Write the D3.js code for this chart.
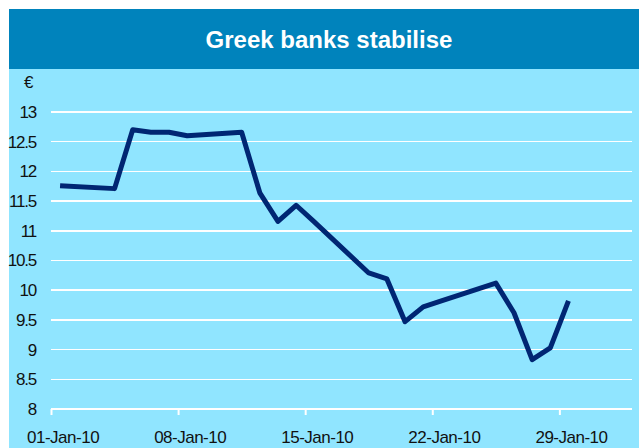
<!DOCTYPE html>
<head>
  <meta charset="utf-8">
  <title>Greek banks stabilise</title>
  <style>
    body {margin: 0; background: #fff;}
    text {font-family: "Liberation Sans", Arial, sans-serif;}
    .axis text {font-size: 17px; fill: #111;}
    .y.axis text {letter-spacing: -1.2px;}
    .x.axis text {letter-spacing: -0.5px;}
    .grid line {stroke: #fff; stroke-width: 1.5; shape-rendering: crispEdges;}
  </style>
</head>
<body>
  <svg width="639" height="448"></svg>
  <script src="https://cdn.jsdelivr.net/npm/d3@7"></script>
  <script>
    // closing price in euros, January 2010
    var dates = ["2010-01-01","2010-01-04","2010-01-05","2010-01-06","2010-01-07","2010-01-08",
                 "2010-01-11","2010-01-12","2010-01-13","2010-01-14","2010-01-15",
                 "2010-01-18","2010-01-19","2010-01-20","2010-01-21","2010-01-22",
                 "2010-01-25","2010-01-26","2010-01-27","2010-01-28","2010-01-29"];
    var prices = [11.76, 11.71, 12.70, 12.66, 12.66, 12.60,
                  12.66, 11.64, 11.16, 11.43, 11.15,
                  10.29, 10.19, 9.47, 9.72, 9.82,
                  10.12, 9.62, 8.83, 9.03, 9.82];
    var yTicks = [8, 8.5, 9, 9.5, 10, 10.5, 11, 11.5, 12, 12.5, 13];
    var xTickDates = ["2010-01-01","2010-01-08","2010-01-15","2010-01-22","2010-01-29"];
    var title = "Greek banks stabilise";

    var parseDate = d3.timeParse("%Y-%m-%d");
    var data = dates.map(function(d, i) { return {date: parseDate(d), value: prices[i]}; });
    var tickDates = xTickDates.map(parseDate);

    var svg = d3.select("svg");

    // panel and title band
    svg.append("rect").attr("x", 9).attr("y", 69).attr("width", 630).attr("height", 379).attr("fill", "#90e5ff");
    svg.append("rect").attr("x", 9).attr("y", 9).attr("width", 630).attr("height", 60).attr("fill", "#0083bc");
    svg.append("text")
        .attr("x", 329).attr("y", 48)
        .attr("text-anchor", "middle")
        .attr("fill", "#fff")
        .attr("font-size", "24px")
        .attr("font-weight", "bold")
        .text(title);

    var x = d3.scaleTime().domain([parseDate("2010-01-01"), parseDate("2010-02-02")]).range([51, 632]),
        y = d3.scaleLinear().domain([8, 13]).range([409, 112]);

    var halfDay = function(d) { return d3.timeHour.offset(d, 12); };

    // gridlines
    svg.append("g")
        .attr("class", "grid")
      .selectAll("line")
        .data(yTicks.slice(1))
      .enter().append("line")
        .attr("x1", 51).attr("x2", 632)
        .attr("y1", function(d) { return y(d); })
        .attr("y2", function(d) { return y(d); });

    // y axis labels
    var yAxis = d3.axisLeft(y).tickValues(yTicks).tickSize(0).tickPadding(15)
        .tickFormat(function(d) { return String(d); });
    var gy = svg.append("g").attr("class", "y axis").attr("transform", "translate(51,0)").call(yAxis);
    gy.select(".domain").remove();
    gy.append("text")
        .attr("x", -23).attr("y", y(13) - 29)
        .attr("dy", "0.32em")
        .attr("text-anchor", "middle")
        .text("€");

    // x axis
    var xAxis = d3.axisBottom(x).tickValues(tickDates).tickSize(6).tickFormat("");
    var gx = svg.append("g").attr("class", "x axis").attr("transform", "translate(0,409)").call(xAxis);
    gx.select(".domain").attr("stroke", "#fff").attr("stroke-width", 2).attr("d", "M51,0H632");
    gx.selectAll(".tick line").attr("stroke", "#fff").attr("stroke-width", 2);
    svg.append("g").attr("class", "x axis")
      .selectAll("text")
        .data(tickDates)
      .enter().append("text")
        .attr("x", function(d) { return x(halfDay(d)) + 3; })
        .attr("y", 443)
        .attr("text-anchor", "middle")
        .text(d3.timeFormat("%d-%b-%y"));

    // price line
    var line = d3.line()
        .x(function(d) { return x(halfDay(d.date)); })
        .y(function(d) { return y(d.value); });

    svg.append("path")
        .datum(data)
        .attr("fill", "none")
        .attr("stroke", "#002673")
        .attr("stroke-width", 5)
        .attr("stroke-linejoin", "round")
        .attr("d", line);
  </script>
</body>
